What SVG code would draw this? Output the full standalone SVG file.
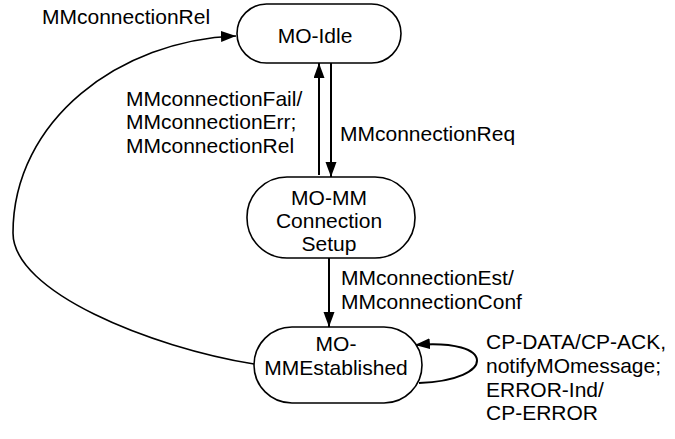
<svg xmlns="http://www.w3.org/2000/svg" width="675" height="439" viewBox="0 0 675 439">
  <style>
    .state { fill: #ffffff; stroke: #000000; stroke-width: 1.6; }
    .lbl { font-family: "Liberation Sans", Arial, sans-serif; font-size: 21px; fill: #000000; }
    .mid { text-anchor: middle; }
    .edge { fill: none; stroke: #000000; stroke-width: 2; }
    .thin { stroke-width: 1.6; }
  </style>
  <defs>
    <marker id="arrow" markerUnits="userSpaceOnUse" markerWidth="16" markerHeight="12" refX="15" refY="5.5" orient="auto">
      <path d="M0,0 L15,5.5 L0,11 z" fill="#000000"/>
    </marker>
  </defs>

  <!-- transitions -->
  <g id="connectors">
    <!-- MO-MMEstablished back to MO-Idle -->
    <path class="edge thin" d="M254,364 C150,347 13,292 13,233 C13,120 120,40 236,36" marker-end="url(#arrow)"/>
    <!-- MO-MM Connection Setup up to MO-Idle -->
    <path class="edge" d="M319,175 L319,63" marker-end="url(#arrow)"/>
    <!-- MO-Idle down to MO-MM Connection Setup -->
    <path class="edge" d="M331,63 L331,177" marker-end="url(#arrow)"/>
    <!-- MO-MM Connection Setup down to MO-MMEstablished -->
    <path class="edge" d="M329,258 L329,327" marker-end="url(#arrow)"/>
    <!-- self loop on MO-MMEstablished -->
    <path class="edge" d="M419,383 C497,380 497,338 415,345" marker-end="url(#arrow)"/>
  </g>

  <!-- transition labels -->
  <g id="labels">
    <text class="lbl" x="42" y="24">MMconnectionRel</text>
    <text class="lbl" x="126" y="106">MMconnectionFail/</text>
    <text class="lbl" x="126" y="129">MMconnectionErr;</text>
    <text class="lbl" x="126" y="153">MMconnectionRel</text>
    <text class="lbl" x="340" y="141">MMconnectionReq</text>
    <text class="lbl" x="341" y="285">MMconnectionEst/</text>
    <text class="lbl" x="341" y="309">MMconnectionConf</text>
    <text class="lbl" x="486" y="349">CP-DATA/CP-ACK,</text>
    <text class="lbl" x="486" y="373">notifyMOmessage;</text>
    <text class="lbl" x="486" y="397">ERROR-Ind/</text>
    <text class="lbl" x="486" y="420">CP-ERROR</text>
  </g>

  <!-- states -->
  <g id="mo-idle">
    <rect class="state" x="237" y="4" width="164" height="59" rx="29.5" ry="29.5"/>
    <text class="lbl mid" x="315" y="43">MO-Idle</text>
  </g>
  <g id="mo-mm-connection-setup">
    <rect class="state" x="247" y="177" width="168" height="81" rx="40" ry="40"/>
    <text class="lbl mid" x="329" y="205">MO-MM</text>
    <text class="lbl mid" x="329" y="228">Connection</text>
    <text class="lbl mid" x="329" y="251">Setup</text>
  </g>
  <g id="mo-mmestablished">
    <rect class="state" x="254" y="327" width="168" height="76" rx="38" ry="38"/>
    <text class="lbl mid" x="336" y="351">MO-</text>
    <text class="lbl mid" x="336" y="375">MMEstablished</text>
  </g>
</svg>
